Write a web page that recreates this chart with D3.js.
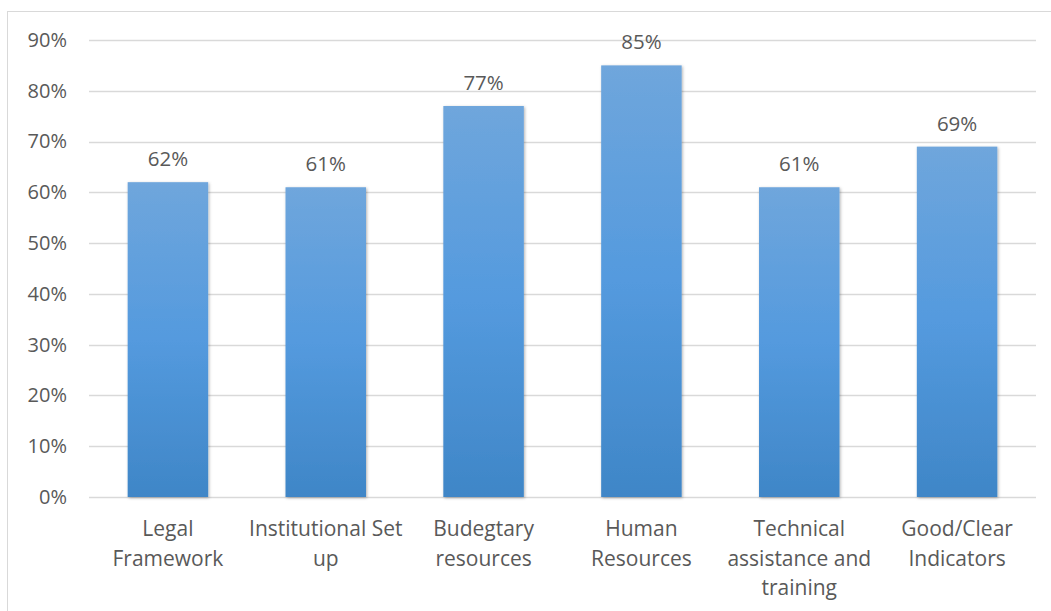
<!DOCTYPE html>
<html>
<head>
<meta charset="utf-8">
<script src="https://cdn.jsdelivr.net/npm/d3@7"></script>
<style>
  body { margin: 0; background: #fff; }
  text { font-family: "Open Sans", "Noto Sans", sans-serif; fill: #595959; }
</style>
</head>
<body>
<div id="chart"></div>
<script>
// chart data
const categories = [
    ["Legal", "Framework"],
    ["Institutional Set", "up"],
    ["Budegtary", "resources"],
    ["Human", "Resources"],
    ["Technical", "assistance and", "training"],
    ["Good/Clear", "Indicators"]
];
const values = [0.62, 0.61, 0.77, 0.85, 0.61, 0.69];
const yTicks = [0, 0.1, 0.2, 0.3, 0.4, 0.5, 0.6, 0.7, 0.8, 0.9];

const conf = { width: 1051, height: 611, left: 89, right: 1036, top: 40, bottom: 497 };

const svg = d3.select("#chart").append("svg")
    .attr("width", conf.width)
    .attr("height", conf.height);

// gradient + shadow for the bars
const defs = svg.append("defs");
const grad = defs.append("linearGradient")
    .attr("id", "barGrad")
    .attr("x1", 0).attr("y1", 0).attr("x2", 0).attr("y2", 1);
grad.append("stop").attr("offset", "0%").attr("stop-color", "#6fa6dc");
grad.append("stop").attr("offset", "50%").attr("stop-color", "#549ade");
grad.append("stop").attr("offset", "100%").attr("stop-color", "#3f86c7");

const shadow = defs.append("filter").attr("id", "shadow")
    .attr("x", "-20%").attr("y", "-20%").attr("width", "140%").attr("height", "140%");
shadow.append("feDropShadow")
    .attr("dx", 1).attr("dy", 1).attr("stdDeviation", 1.5)
    .attr("flood-color", "#000").attr("flood-opacity", 0.3);

// chart border
svg.append("rect")
    .attr("x", 7.5).attr("y", 11.5)
    .attr("width", conf.width + 20).attr("height", conf.height + 20)
    .attr("fill", "none")
    .attr("stroke", "#d9d9d9")
    .attr("stroke-width", 1);

const x = d3.scaleBand()
    .domain(d3.range(categories.length))
    .range([conf.left, conf.right])
    .paddingInner(0.49)
    .paddingOuter(0.245);

const y = d3.scaleLinear()
    .domain([0, 0.9])
    .range([conf.bottom, conf.top]);

// gridlines
svg.append("g")
    .selectAll("line")
    .data(yTicks)
    .enter().append("line")
        .attr("x1", conf.left)
        .attr("x2", conf.right)
        .attr("y1", d => Math.round(y(d)) + 0.5)
        .attr("y2", d => Math.round(y(d)) + 0.5)
        .attr("stroke", "#d9d9d9")
        .attr("stroke-width", 1.3);

// y axis labels
const yAxis = d3.axisLeft(y)
    .tickValues(yTicks)
    .tickFormat(d3.format(".0%"))
    .tickSize(0)
    .tickPadding(22);
const yg = svg.append("g")
    .attr("transform", `translate(${conf.left},0)`)
    .call(yAxis);
yg.select(".domain").remove();
yg.selectAll("text")
    .style("font-size", "20px")
    .attr("fill", "#595959");

// bars
svg.append("g")
    .selectAll("rect")
    .data(values)
    .enter().append("rect")
        .attr("x", (d, i) => x(i))
        .attr("y", d => y(d))
        .attr("width", x.bandwidth())
        .attr("height", d => y(0) - y(d))
        .attr("fill", "url(#barGrad)")
        .attr("filter", "url(#shadow)");

// value labels
svg.append("g")
    .selectAll("text")
    .data(values)
    .enter().append("text")
        .attr("x", (d, i) => x(i) + x.bandwidth() / 2)
        .attr("y", d => y(d) - 16)
        .attr("text-anchor", "middle")
        .style("font-size", "20.5px")
        .attr("fill", "#404040")
        .text(d => d3.format(".0%")(d));

// category labels
const xAxis = d3.axisBottom(x).tickSize(0).tickFormat("");
const xg = svg.append("g")
    .attr("transform", `translate(0,${conf.bottom})`)
    .call(xAxis);
xg.select(".domain").remove();
xg.selectAll(".tick").each(function(i) {
    const t = d3.select(this).append("text")
        .attr("text-anchor", "middle")
        .style("font-size", "21px")
        .attr("fill", "#595959");
    categories[i].forEach((line, k) => {
        t.append("tspan")
            .attr("x", 0)
            .attr("y", 39 + k * 29.5)
            .text(line);
    });
});
</script>
</body>
</html>
